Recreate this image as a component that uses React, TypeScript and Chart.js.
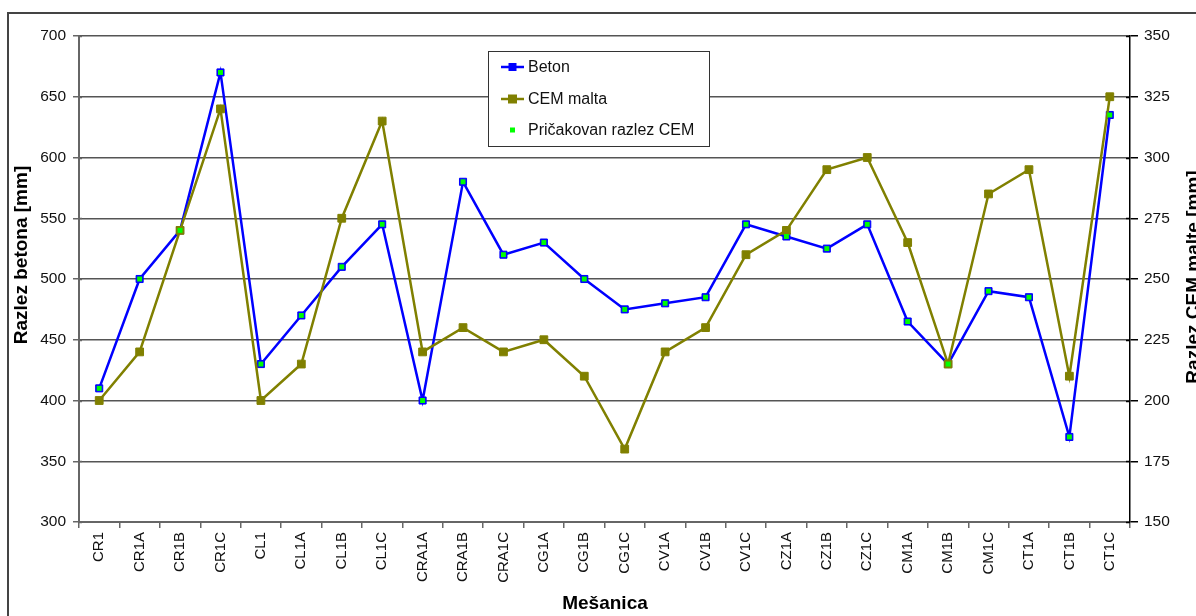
import React, { useEffect, useRef } from "react";
import { Chart, registerables } from "chart.js";

Chart.register(...registerables);

const categories = [
  "CR1", "CR1A", "CR1B", "CR1C", "CL1", "CL1A", "CL1B", "CL1C", "CRA1A", "CRA1B",
  "CRA1C", "CG1A", "CG1B", "CG1C", "CV1A", "CV1B", "CV1C", "CZ1A", "CZ1B", "CZ1C",
  "CM1A", "CM1B", "CM1C", "CT1A", "CT1B", "CT1C",
];

const betonValues = [
  410, 500, 540, 670, 430, 470, 510, 545, 400, 580,
  520, 530, 500, 475, 480, 485, 545, 535, 525, 545,
  465, 430, 490, 485, 370, 635,
];

const cemMaltaValues = [
  200, 220, 270, 320, 200, 215, 275, 315, 220, 230,
  220, 225, 210, 180, 220, 230, 260, 270, 295, 300,
  265, 215, 285, 295, 210, 325,
];

const expectedCemValues = [
  205, 250, 270, 335, 215, 235, 255, 272.5, 200, 290,
  260, 265, 250, 237.5, 240, 242.5, 272.5, 267.5, 262.5, 272.5,
  232.5, 215, 245, 242.5, 185, 317.5,
];

const leftAxisTitle = "Razlez betona [mm]";
const rightAxisTitle = "Razlez CEM malte [mm]";
const xAxisTitle = "Mešanica";
const legendLabels = ["Beton", "CEM malta", "Pričakovan razlez CEM"];

const FONT = "'Liberation Sans', Arial, sans-serif";
const BLUE = "#0000ff";
const OLIVE = "#808000";
const GREEN = "#00ff00";

const decorPlugin = {
  id: "decor",
  afterDraw(chart: any) {
    const ctx = chart.ctx as CanvasRenderingContext2D;
    const yl = chart.scales.y;
    const yr = chart.scales.y2;
    const area = chart.chartArea;
    ctx.save();

    // inner parts of cross ticks
    ctx.lineWidth = 1.5;
    ctx.strokeStyle = "#666";
    yl.ticks.forEach((t: any) => {
      const py = Math.round(yl.getPixelForValue(t.value)) + 0.5;
      ctx.beginPath();
      ctx.moveTo(area.left, py);
      ctx.lineTo(area.left + 3, py);
      ctx.stroke();
    });
    ctx.strokeStyle = "#000";
    yr.ticks.forEach((t: any) => {
      const py = Math.round(yr.getPixelForValue(t.value)) + 0.5;
      ctx.beginPath();
      ctx.moveTo(area.right - 4, py);
      ctx.lineTo(area.right, py);
      ctx.stroke();
    });

    // outer frame (cropped)
    ctx.strokeStyle = "#444";
    ctx.lineWidth = 2;
    ctx.beginPath();
    ctx.moveTo(8, 620);
    ctx.lineTo(8, 13);
    ctx.lineTo(1200, 13);
    ctx.stroke();

    // axis titles
    ctx.fillStyle = "#000";
    ctx.font = `bold 19px ${FONT}`;
    ctx.textAlign = "center";
    ctx.textBaseline = "middle";
    ctx.fillText(xAxisTitle, 605, 604);

    ctx.save();
    ctx.translate(22, 255);
    ctx.rotate(-Math.PI / 2);
    ctx.fillText(leftAxisTitle, 0, 0);
    ctx.restore();

    ctx.save();
    ctx.translate(1194, 277);
    ctx.rotate(-Math.PI / 2);
    ctx.fillText(rightAxisTitle, 0, 0);
    ctx.restore();

    // legend
    const lx = 488, ly = 51, lw = 221, lh = 95;
    ctx.fillStyle = "#fff";
    ctx.fillRect(lx, ly, lw, lh);
    ctx.strokeStyle = "#333";
    ctx.lineWidth = 1;
    ctx.strokeRect(lx + 0.5, ly + 0.5, lw, lh);

    const rows = [67, 99, 130];
    const sx1 = 501, sx2 = 524, sc = 512.5;
    ctx.strokeStyle = BLUE;
    ctx.lineWidth = 2.5;
    ctx.beginPath();
    ctx.moveTo(sx1, rows[0]);
    ctx.lineTo(sx2, rows[0]);
    ctx.stroke();
    ctx.fillStyle = BLUE;
    ctx.fillRect(sc - 4, rows[0] - 4, 8, 8);

    ctx.strokeStyle = OLIVE;
    ctx.beginPath();
    ctx.moveTo(sx1, rows[1]);
    ctx.lineTo(sx2, rows[1]);
    ctx.stroke();
    ctx.fillStyle = OLIVE;
    ctx.fillRect(sc - 4.5, rows[1] - 4.5, 9, 9);

    ctx.fillStyle = GREEN;
    ctx.fillRect(sc - 2.5, rows[2] - 2.5, 5, 5);

    ctx.fillStyle = "#111";
    ctx.font = `16px ${FONT}`;
    ctx.textAlign = "left";
    legendLabels.forEach((lab, i) => ctx.fillText(lab, 528, rows[i] + 1));

    ctx.restore();
  },
};

export default function App() {
  const ref = useRef<HTMLCanvasElement>(null);

  useEffect(() => {
    document.body.style.margin = "0";
    const tickFont = { family: FONT, size: 15.5 };
    const chart = new Chart(ref.current as HTMLCanvasElement, {
      type: "line",
      data: {
        labels: categories,
        datasets: [
          {
            label: legendLabels[2],
            data: expectedCemValues,
            yAxisID: "y2",
            showLine: false,
            pointStyle: "rect",
            pointRadius: 3.5,
            pointBackgroundColor: GREEN,
            pointBorderColor: GREEN,
            pointBorderWidth: 0,
            borderColor: GREEN,
            backgroundColor: GREEN,
          },
          {
            label: legendLabels[1],
            data: cemMaltaValues,
            yAxisID: "y2",
            borderColor: OLIVE,
            backgroundColor: OLIVE,
            borderWidth: 2.5,
            pointStyle: "rect",
            pointRadius: 5.5,
            pointBackgroundColor: OLIVE,
            pointBorderColor: OLIVE,
            pointBorderWidth: 1,
            tension: 0,
          },
          {
            label: legendLabels[0],
            data: betonValues,
            yAxisID: "y",
            borderColor: BLUE,
            backgroundColor: BLUE,
            borderWidth: 2.5,
            pointStyle: "rect",
            pointRadius: 5,
            pointBackgroundColor: BLUE,
            pointBorderColor: BLUE,
            pointBorderWidth: 1,
            tension: 0,
          },
        ],
      },
      options: {
        responsive: false,
        animation: false,
        devicePixelRatio: 1,
        layout: { padding: { top: 36, left: 0, right: 0, bottom: 0 } },
        plugins: {
          legend: { display: false },
          tooltip: { enabled: false },
          title: { display: false },
        },
        scales: {
          x: {
            type: "category",
            offset: true,
            grid: {
              offset: true,
              drawOnChartArea: false,
              color: "#666",
              lineWidth: 1.5,
              tickLength: 6,
            },
            border: { color: "#666", width: 2 },
            ticks: {
              autoSkip: false,
              maxRotation: 90,
              minRotation: 90,
              padding: 4,
              font: { family: FONT, size: 15 },
              color: "#111",
            },
            afterFit: (s: any) => {
              s.height = 94;
            },
          },
          y: {
            position: "left",
            min: 300,
            max: 700,
            ticks: { stepSize: 50, padding: 7, font: tickFont, color: "#111" },
            grid: {
              color: "#555",
              lineWidth: 1.5,
              tickLength: 6,
              tickColor: "#666",
            },
            border: { color: "#666", width: 2 },
            afterFit: (s: any) => {
              s.width = 79;
            },
          },
          y2: {
            position: "right",
            min: 150,
            max: 350,
            ticks: { stepSize: 25, padding: 6, font: tickFont, color: "#111" },
            grid: {
              drawOnChartArea: false,
              color: "#000",
              lineWidth: 1.5,
              tickLength: 8,
            },
            border: { color: "#000", width: 1.5 },
            afterFit: (s: any) => {
              s.width = 66;
            },
          },
        },
      },
      plugins: [decorPlugin],
    } as any);
    return () => chart.destroy();
  }, []);

  return (
    <div
      style={{
        position: "absolute",
        left: 0,
        top: 0,
        width: 1196,
        height: 616,
        background: "#fff",
        overflow: "hidden",
      }}
    >
      <canvas ref={ref} width={1196} height={616} style={{ display: "block" }} />
    </div>
  );
}
